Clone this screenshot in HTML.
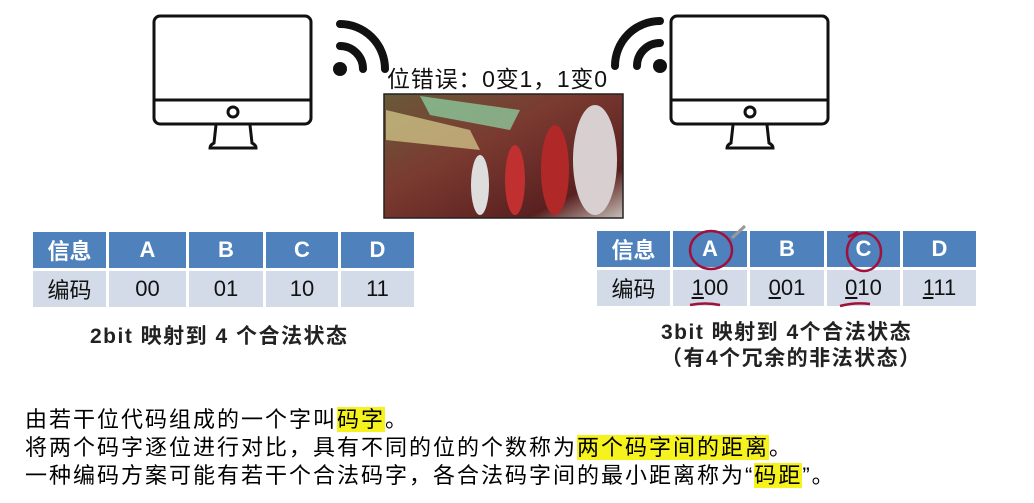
<!DOCTYPE html>
<html><head><meta charset="utf-8"><style>
body{margin:0;width:1034px;height:503px;background:#fff;position:relative;overflow:hidden;font-family:"Liberation Sans","Noto Sans CJK SC",sans-serif;}
.abs{position:absolute}
table{position:absolute;border-collapse:separate;border-spacing:3px;}
td{text-align:center;font-size:22px;padding:0;}
.h td{background:#4f81bd;color:#fff;font-weight:bold;height:36px;}
.r td{background:#d3dbe8;color:#111;height:36px;}
.t{position:absolute;left:25px;font-size:22px;letter-spacing:2px;color:#000;white-space:nowrap;}
.hl{background:#f6f21e;}
.cap{position:absolute;font-size:20px;font-weight:bold;color:#222;white-space:nowrap;}
</style></head><body>
<svg class="abs" style="left:0;top:0" width="1034" height="230">
 <g fill="none" stroke="#111" stroke-width="3">
  <rect x="154" y="16" width="157" height="108" rx="6"/>
  <line x1="154" y1="100" x2="311" y2="100"/>
  <circle cx="233" cy="112" r="5"/>
  <path d="M216 125 L214 143 Q210 145 210 148 L256 148 Q256 145 252 143 L250 125"/>
  <rect x="671" y="16" width="157" height="108" rx="6"/>
  <line x1="671" y1="100" x2="828" y2="100"/>
  <circle cx="750" cy="112" r="5"/>
  <path d="M733 125 L731 143 Q727 145 727 148 L773 148 Q773 145 769 143 L767 125"/>
 </g>
 <g fill="none" stroke="#111" stroke-width="8" stroke-linecap="round">
  <circle cx="340" cy="69" r="7" fill="#111" stroke="none"/>
  <path d="M340 46 A23 23 0 0 1 363 69"/>
  <path d="M340 24 A45 45 0 0 1 385 69"/>
  <circle cx="660" cy="66" r="7" fill="#111" stroke="none"/>
  <path d="M660 43 A23 23 0 0 0 637 66"/>
  <path d="M660 21 A45 45 0 0 0 615 66"/>
 </g>
 <defs><linearGradient id="g" x1="0" y1="0" x2="1" y2="1">
  <stop offset="0" stop-color="#6a5a3a"/><stop offset="0.4" stop-color="#7a3a30"/><stop offset="0.8" stop-color="#5a2020"/><stop offset="1" stop-color="#c8c0b8"/></linearGradient></defs>
 <rect x="384" y="94" width="239" height="124" fill="url(#g)" stroke="#222" stroke-width="1.5"/>
 <path d="M386 110 L470 130 L480 150 L386 140Z" fill="#d8d090" opacity="0.7"/>
 <path d="M420 96 L520 110 L510 130 L430 115Z" fill="#8fd8a8" opacity="0.7"/>
 <ellipse cx="595" cy="160" rx="22" ry="55" fill="#d8d0d0"/>
 <ellipse cx="555" cy="170" rx="14" ry="45" fill="#b02828"/>
 <ellipse cx="515" cy="180" rx="10" ry="35" fill="#c03030"/>
 <ellipse cx="480" cy="185" rx="9" ry="30" fill="#ddd"/>
 <text x="387" y="87" font-size="23" fill="#111" textLength="220" font-family="Liberation Sans, Noto Sans CJK SC, sans-serif">位错误：0变1，1变0</text>
</svg>
<table style="left:30px;top:229px;">
 <tr class="h"><td style="width:73px">信息</td><td style="width:77px">A</td><td style="width:74px">B</td><td style="width:72px">C</td><td style="width:73px">D</td></tr>
 <tr class="r"><td>编码</td><td>00</td><td>01</td><td>10</td><td>11</td></tr>
</table>
<table style="left:594px;top:228px;">
 <tr class="h"><td style="width:73px">信息</td><td style="width:74px">A</td><td style="width:74px">B</td><td style="width:73px">C</td><td style="width:73px">D</td></tr>
 <tr class="r"><td>编码</td><td><u>1</u>00</td><td><u>0</u>01</td><td><u>0</u>10</td><td><u>1</u>11</td></tr>
</table>
<svg class="abs" style="left:0;top:0" width="1034" height="320">
 <g fill="none" stroke="#a0103a" stroke-width="2.5">
  <ellipse cx="711" cy="250" rx="21" ry="19"/>
  <ellipse cx="864" cy="252" rx="17" ry="19"/>
  <path d="M848 237 L858 232"/>
  <path d="M690 305 Q705 302 720 305"/>
  <path d="M840 306 Q855 302 870 304"/>
 </g>
 <path d="M732 238 L745 226" stroke="#999" stroke-width="3"/>
</svg>
<div class="cap" style="left:90px;top:320px;font-size:21px;letter-spacing:1.5px;">2bit 映射到 4 个合法状态</div>
<div class="cap" style="left:661px;top:316px;font-size:21px;letter-spacing:1.5px;">3bit 映射到 4个合法状态</div>
<div class="cap" style="left:661px;top:342px;font-size:21px;letter-spacing:1.5px;">（有4个冗余的非法状态）</div>
<div class="t" style="top:402px;">由若干位代码组成的一个字叫<span class="hl">码字</span>。</div>
<div class="t" style="top:430px;">将两个码字逐位进行对比，具有不同的位的个数称为<span class="hl">两个码字间的距离</span>。</div>
<div class="t" style="top:458px;">一种编码方案可能有若干个合法码字，各合法码字间的最小距离称为“<span class="hl">码距</span>”。</div>
</body></html>
